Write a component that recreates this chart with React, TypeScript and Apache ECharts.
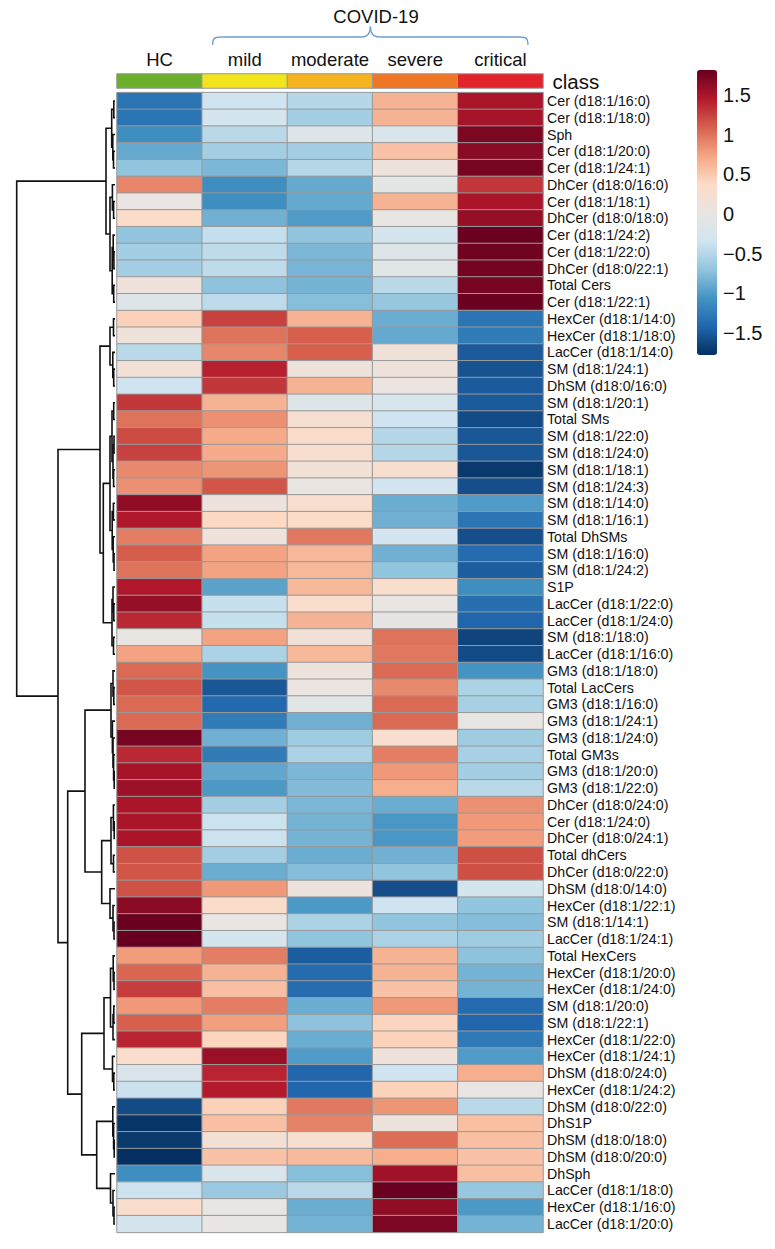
import React, { useEffect, useRef } from "react";
import * as echarts from "echarts";

const classes = ["HC", "mild", "moderate", "severe", "critical"];
const classColors = ["#6BAF2B", "#F1E41A", "#F6B320", "#EE7624", "#E3232B"];

const rowNames = [
  "Cer (d18:1/16:0)", "Cer (d18:1/18:0)", "Sph", "Cer (d18:1/20:0)", "Cer (d18:1/24:1)",
  "DhCer (d18:0/16:0)", "Cer (d18:1/18:1)", "DhCer (d18:0/18:0)", "Cer (d18:1/24:2)", "Cer (d18:1/22:0)",
  "DhCer (d18:0/22:1)", "Total Cers", "Cer (d18:1/22:1)", "HexCer (d18:1/14:0)", "HexCer (d18:1/18:0)",
  "LacCer (d18:1/14:0)", "SM (d18:1/24:1)", "DhSM (d18:0/16:0)", "SM (d18:1/20:1)", "Total SMs",
  "SM (d18:1/22:0)", "SM (d18:1/24:0)", "SM (d18:1/18:1)", "SM (d18:1/24:3)", "SM (d18:1/14:0)",
  "SM (d18:1/16:1)", "Total DhSMs", "SM (d18:1/16:0)", "SM (d18:1/24:2)", "S1P",
  "LacCer (d18:1/22:0)", "LacCer (d18:1/24:0)", "SM (d18:1/18:0)", "LacCer (d18:1/16:0)", "GM3 (d18:1/18:0)",
  "Total LacCers", "GM3 (d18:1/16:0)", "GM3 (d18:1/24:1)", "GM3 (d18:1/24:0)", "Total GM3s",
  "GM3 (d18:1/20:0)", "GM3 (d18:1/22:0)", "DhCer (d18:0/24:0)", "Cer (d18:1/24:0)", "DhCer (d18:0/24:1)",
  "Total dhCers", "DhCer (d18:0/22:0)", "DhSM (d18:0/14:0)", "HexCer (d18:1/22:1)", "SM (d18:1/14:1)",
  "LacCer (d18:1/24:1)", "Total HexCers", "HexCer (d18:1/20:0)", "HexCer (d18:1/24:0)", "SM (d18:1/20:0)",
  "SM (d18:1/22:1)", "HexCer (d18:1/22:0)", "HexCer (d18:1/24:1)", "DhSM (d18:0/24:0)", "HexCer (d18:1/24:2)",
  "DhSM (d18:0/22:0)", "DhS1P", "DhSM (d18:0/18:0)", "DhSM (d18:0/20:0)", "DhSph",
  "LacCer (d18:1/18:0)", "HexCer (d18:1/16:0)", "LacCer (d18:1/20:0)",
];

const hc = [
  -1.3, -1.3, -1.1, -0.9, -0.7, 0.9, 0.02, 0.35, -0.7, -0.6, -0.6, 0.12, -0.15,
  0.45, 0.12, -0.48, 0.17, -0.35, 1.3, 1.0, 1.2, 1.25, 0.88, 0.85, 1.62, 1.47, 0.95, 1.12, 1.0, 1.47, 1.6, 1.38, 0.02, 0.75,
  1.05, 1.15, 1.05, 1.05, 1.75, 1.38, 1.52, 1.57, 1.5, 1.5, 1.5, 1.17, 1.15, 1.17, 1.65, 1.8, 1.82,
  0.78, 1.07, 1.27, 0.8, 1.1, 1.4, 0.32, -0.22, -0.38, -1.6, -1.75, -1.72, -1.78, -1.1, -0.37, 0.32, -0.28,
];
const mild = [
  -0.35, -0.3, -0.48, -0.6, -0.8, -1.1, -1.1, -0.85, -0.42, -0.45, -0.45, -0.72, -0.45,
  1.25, 1.0, 0.9, 1.42, 1.3, 0.65, 0.85, 0.7, 0.7, 0.82, 1.15, 0.1, 0.4, 0.13, 0.75, 0.75, -0.95, -0.4, -0.4, 0.75, -0.55,
  -1.05, -1.52, -1.4, -1.25, -0.85, -1.25, -0.92, -1.02, -0.6, -0.37, -0.37, -0.6, -0.88, 0.8, 0.33, 0.02, -0.28,
  0.95, 0.65, 0.57, 0.95, 0.77, 0.42, 1.58, 1.4, 1.45, 0.45, 0.57, 0.2, 0.55, -0.2, -0.65, 0.0, 0.0,
];
const moderate = [
  -0.5, -0.6, -0.15, -0.6, -0.5, -0.9, -0.9, -1.0, -0.7, -0.8, -0.82, -0.83, -0.75,
  0.65, 1.1, 1.1, 0.1, 0.65, -0.15, 0.25, 0.33, 0.27, 0.17, 0.02, 0.28, 0.35, 0.98, 0.62, 0.62, 0.62, 0.3, 0.65, 0.15, 0.62,
  0.1, 0.03, -0.08, -0.85, -0.62, -0.55, -0.8, -0.77, -0.8, -0.83, -0.83, -0.88, -0.76, 0.08, -1.02, -0.55, -0.7,
  -1.48, -1.38, -1.37, -0.88, -0.72, -0.88, -1.0, -1.42, -1.42, 0.97, 0.92, 0.25, 0.6, -0.75, -0.48, -0.88, -0.83,
];
const severe = [
  0.65, 0.65, -0.2, 0.55, 0.1, -0.05, 0.65, 0.02, -0.3, -0.15, -0.12, -0.48, -0.68,
  -0.88, -0.9, 0.15, 0.13, 0.05, -0.25, -0.35, -0.5, -0.5, 0.28, -0.33, -0.88, -0.85, -0.33, -0.85, -0.7, 0.3, 0.0, -0.03, 1.0, 0.98,
  1.05, 0.88, 1.05, 1.05, 0.27, 0.95, 0.8, 0.68, -0.88, -1.03, -1.03, -0.85, -0.7, -1.58, -0.35, -0.7, -0.55,
  0.65, 0.65, 0.55, 0.8, 0.42, 0.44, 0.13, -0.35, 0.44, 0.82, 0.1, 1.03, 0.68, 1.55, 1.8, 1.62, 1.72,
];
const critical = [
  1.5, 1.52, 1.72, 1.65, 1.75, 1.3, 1.5, 1.6, 1.8, 1.78, 1.76, 1.75, 1.8,
  -1.3, -1.25, -1.5, -1.55, -1.5, -1.5, -1.6, -1.52, -1.52, -1.72, -1.58, -1.0, -1.3, -1.58, -1.38, -1.48, -1.1, -1.35, -1.42, -1.65, -1.6,
  -1.05, -0.55, -0.58, 0.0, -0.62, -0.58, -0.6, -0.48, 0.85, 0.8, 0.78, 1.18, 1.18, -0.3, -0.7, -0.76, -0.62,
  -0.72, -0.83, -0.83, -1.38, -1.42, -1.27, -1.0, 0.68, 0.02, -0.48, 0.57, 0.57, 0.55, 0.57, -0.68, -1.02, -0.83,
];

const scaleMin = -1.78;
const scaleMax = 1.82;
const palette = [
  "#053061", "#2166AC", "#4393C3", "#92C5DE", "#D1E5F0", "#E9E5E2",
  "#FDDBC7", "#F4A582", "#D6604D", "#B2182B", "#67001F",
];

// Row dendrogram: leaf = row index, node = [left, right, mergeHeight]
const dendrogram: any = [
  [
    [[0, 1, 1.2], [2, [3, 4, 1.5], 2.2], 3.3],
    [[5, [6, 7, 1.4], 2.6], [[8, [9, 10, 1.1], 1.8], [11, 12, 1.3], 2.8], 5],
    9,
  ],
  [
    [
      [[13, 14, 1.5], [15, [16, 17, 1.3], 2.2], 5],
      [
        [[[18, 19, 1.3], [[20, 21, 1.0], [22, 23, 1.4], 2.0], 3.0], [[24, 25, 1.6], [26, [27, 28, 1.0], 1.8], 2.8], 5],
        [[29, [30, 31, 1.2], 2.0], [32, 33, 1.5], 3],
        11.7,
      ],
      15,
    ],
    [
      [
        [[34, [35, 36, 1.2], 2.0], [37, [38, [39, [40, 41, 0.8], 1.4], 2.0], 2.6], 4],
        [[[42, [43, 44, 0.8], 1.6], [45, 46, 1.5], 4], [47, [48, [49, 50, 1.0], 2.0], 5], 13.3],
        30,
      ],
      [
        [[[51, [52, 53, 1.0], 1.8], [[54, 55, 1.2], 56, 2.0], 4.5], [57, [58, 59, 1.2], 2.5], 11],
        [[60, [61, [62, 63, 0.8], 1.4], 2.2], [64, [65, [66, 67, 1.0], 2.0], 4.5], 18.3],
        33.3,
      ],
      47.3,
    ],
    57,
  ],
  98.3,
];

const FONT = "Liberation Sans, Arial, sans-serif";

function buildSegments(tree: any) {
  const segs: number[][][] = [];
  const walk = (node: any): { y: number; h: number } => {
    if (typeof node === "number") return { y: node, h: 0 };
    const a = walk(node[0]);
    const b = walk(node[1]);
    const h = node[2];
    segs.push([[a.h, a.y], [h, a.y], [h, b.y], [b.h, b.y]]);
    return { y: (a.y + b.y) / 2, h };
  };
  walk(tree);
  return segs;
}

export default function App() {
  const ref = useRef<HTMLDivElement>(null);
  useEffect(() => {
    document.body.style.margin = "0";
    const chart = echarts.init(ref.current!, undefined, { renderer: "svg" });
    const cols = [hc, mild, moderate, severe, critical];
    const heatData: number[][] = [];
    cols.forEach((col, c) => col.forEach((v, r) => heatData.push([c, r, v])));
    const segs = buildSegments(dendrogram);
    const rootH = dendrogram[2];

    const heatTop = 92.6;
    const heatH = 1139.8;
    const heatLeft = 117;
    const heatW = 426;

    const fmt = (v: number) => (Math.abs(v) > 1.6 ? "" : String(v).replace("-", "\u2212"));

    const braceColor = "#6C9BD2";
    const bs = { stroke: braceColor, lineWidth: 1.3, fill: "none" };
    const L = 212.6, R = 528, P = 370.4, yEnd = 45, yMid = 37, yPeak = 26.5;
    const option: any = {
      animation: false,
      textStyle: { fontFamily: FONT },
      grid: [
        { left: heatLeft, top: heatTop, width: heatW, height: heatH },
        { left: heatLeft, top: 74, width: heatW, height: 14 },
        { left: 115 - rootH, top: heatTop, width: rootH, height: heatH },
        { left: 697, top: 55.6, width: 20, height: 316.8 },
      ],
      xAxis: [
        { type: "category", data: classes, gridIndex: 0, show: false },
        {
          type: "category", data: classes, gridIndex: 1, position: "top",
          axisLine: { show: false }, axisTick: { show: false },
          axisLabel: { fontSize: 18.5, color: "#111", margin: 5, fontFamily: FONT, interval: 0 },
        },
        { type: "value", gridIndex: 2, min: 0, max: rootH, inverse: true, show: false },
        { type: "category", data: [""], gridIndex: 3, show: false },
      ],
      yAxis: [
        {
          type: "category", data: rowNames, gridIndex: 0, inverse: true, position: "right",
          axisLine: { show: false }, axisTick: { show: false }, splitLine: { show: false },
          axisLabel: { fontSize: 14.2, color: "#111", margin: 4, fontFamily: FONT, interval: 0 },
        },
        {
          type: "category", data: ["class"], gridIndex: 1, position: "right",
          axisLine: { show: false }, axisTick: { show: false },
          axisLabel: { fontSize: 20.5, color: "#111", margin: 9.5, fontFamily: FONT },
        },
        { type: "value", gridIndex: 2, min: -0.5, max: rowNames.length - 0.5, inverse: true, show: false },
        {
          type: "value", gridIndex: 3, min: -2, max: 2, interval: 0.5, position: "right",
          axisLine: { show: false }, axisTick: { show: false }, splitLine: { show: false },
          axisLabel: { fontSize: 20, color: "#111", margin: 6, fontFamily: FONT, formatter: fmt },
        },
      ],
      visualMap: [
        {
          type: "continuous",
          seriesIndex: 0,
          min: scaleMin,
          max: scaleMax,
          inRange: { color: palette },
          left: 697,
          top: 70,
          itemWidth: 20,
          itemHeight: 285,
          padding: 0,
          calculable: false,
          hoverLink: false,
          showLabel: false,
        },
        {
          type: "piecewise",
          seriesIndex: 1,
          show: false,
          pieces: classColors.map((c, i) => ({ value: i, color: c })),
        },
      ],
      series: [
        {
          type: "heatmap", xAxisIndex: 0, yAxisIndex: 0, data: heatData,
          itemStyle: { borderColor: "#999999", borderWidth: 1 },
          emphasis: { disabled: true },
        },
        {
          type: "heatmap", xAxisIndex: 1, yAxisIndex: 1,
          data: classes.map((c, i) => [i, 0, i]),
          itemStyle: { borderColor: "#999999", borderWidth: 1 },
          emphasis: { disabled: true },
        },
        {
          type: "lines", coordinateSystem: "cartesian2d", xAxisIndex: 2, yAxisIndex: 2,
          polyline: true, silent: true,
          lineStyle: { color: "#111", width: 1.6, opacity: 1 },
          data: segs.map((s) => ({ coords: s })),
        },
      ],
      graphic: [
        {
          type: "text", x: 376, y: 16.5,
          style: { text: "COVID-19", fontSize: 18.5, fill: "#111", fontFamily: FONT, textAlign: "center", textVerticalAlign: "middle" },
        },
        { type: "bezierCurve", shape: { x1: L, y1: yEnd, cpx1: L, cpy1: yMid + 1, cpx2: L + 2, cpy2: yMid, x2: L + 9, y2: yMid }, style: bs },
        { type: "line", shape: { x1: L + 9, y1: yMid, x2: P - 9, y2: yMid }, style: bs },
        { type: "bezierCurve", shape: { x1: P - 9, y1: yMid, cpx1: P - 2, cpy1: yMid, cpx2: P, cpy2: yMid - 4, x2: P, y2: yPeak }, style: bs },
        { type: "bezierCurve", shape: { x1: P, y1: yPeak, cpx1: P, cpy1: yMid - 4, cpx2: P + 2, cpy2: yMid, x2: P + 9, y2: yMid }, style: bs },
        { type: "line", shape: { x1: P + 9, y1: yMid, x2: R - 9, y2: yMid }, style: bs },
        { type: "bezierCurve", shape: { x1: R - 9, y1: yMid, cpx1: R - 2, cpy1: yMid, cpx2: R, cpy2: yMid + 1, x2: R, y2: yEnd }, style: bs },
      ],
    };
    chart.setOption(option);
    return () => chart.dispose();
  }, []);
  return <div ref={ref} style={{ width: 775, height: 1249, overflow: "hidden" }} />;
}
